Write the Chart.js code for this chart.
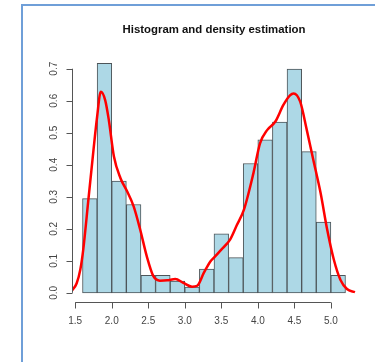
<!DOCTYPE html>
<html>
<head>
<meta charset="utf-8">
<script src="https://cdn.jsdelivr.net/npm/chart.js@4"></script>
<style>
  html, body { margin: 0; padding: 0; background: #fff; }
  #wrap { position: relative; width: 375px; height: 362px; overflow: hidden; }
  #frame { position: absolute; left: 21px; top: 4px; width: 400px; height: 400px;
           border-left: 2px solid #6f9fd8; border-top: 2px solid #6f9fd8; }
  canvas { position: absolute; left: 0; top: 0; }
</style>
</head>
<body>
<div id="wrap">
  <div id="frame"></div>
  <canvas id="chart" width="375" height="362"></canvas>
</div>
<script>
// histogram bins (width 0.2) and their densities
const binMids = [1.7, 1.9, 2.1, 2.3, 2.5, 2.7, 2.9, 3.1, 3.3, 3.5, 3.7, 3.9, 4.1, 4.3, 4.5, 4.7, 4.9, 5.1];
const binDensity = [0.294, 0.717, 0.349, 0.276, 0.055, 0.055, 0.037, 0.018, 0.074, 0.184, 0.110, 0.404, 0.478, 0.533, 0.699, 0.441, 0.221, 0.055];

// kernel density curve
const densX = [1.46, 1.52, 1.57, 1.61, 1.68, 1.75, 1.80, 1.85, 1.91, 1.96, 2.03, 2.12, 2.21, 2.30, 2.39, 2.48, 2.57, 2.66, 2.76, 2.87, 2.98, 3.10, 3.17, 3.26, 3.35, 3.40, 3.50, 3.62, 3.71, 3.81, 3.94, 4.03, 4.13, 4.24, 4.35, 4.44, 4.49, 4.58, 4.67, 4.76, 4.86, 4.95, 5.04, 5.13, 5.22, 5.33];
const densY = [0.008, 0.030, 0.073, 0.135, 0.290, 0.446, 0.550, 0.628, 0.602, 0.540, 0.426, 0.358, 0.317, 0.270, 0.197, 0.114, 0.052, 0.038, 0.039, 0.043, 0.031, 0.019, 0.022, 0.062, 0.098, 0.110, 0.135, 0.166, 0.210, 0.260, 0.374, 0.467, 0.509, 0.535, 0.587, 0.617, 0.623, 0.597, 0.509, 0.415, 0.311, 0.197, 0.104, 0.041, 0.012, 0.002];

const xTicks = [1.5, 2.0, 2.5, 3.0, 3.5, 4.0, 4.5, 5.0];
const yTicks = [0.0, 0.1, 0.2, 0.3, 0.4, 0.5, 0.6, 0.7];
const chartTitle = "Histogram and density estimation";

// R style axes, tick labels and title
const rAxes = {
    id: 'rAxes',
    afterDraw(chart) {
        const ctx = chart.ctx;
        const xs = chart.scales.x;
        const ys = chart.scales.y;
        const area = chart.chartArea;
        ctx.save();
        ctx.strokeStyle = '#555';
        ctx.lineWidth = 1;
        ctx.fillStyle = '#444';
        ctx.font = '10px "Liberation Sans", Arial, sans-serif';

        // y axis
        const yx = Math.round(area.left) + 0.5;
        ctx.beginPath();
        ctx.moveTo(yx, ys.getPixelForValue(yTicks[0]));
        ctx.lineTo(yx, ys.getPixelForValue(yTicks[yTicks.length - 1]));
        yTicks.forEach(v => {
            const py = Math.round(ys.getPixelForValue(v)) + 0.5;
            ctx.moveTo(yx, py);
            ctx.lineTo(yx - 6, py);
        });
        ctx.stroke();
        ctx.textAlign = 'center';
        ctx.textBaseline = 'middle';
        yTicks.forEach(v => {
            ctx.save();
            ctx.translate(yx - 18, ys.getPixelForValue(v));
            ctx.rotate(-Math.PI / 2);
            ctx.fillText(v.toFixed(1), 0, 0);
            ctx.restore();
        });

        // x axis
        const xy = Math.round(area.bottom) + 0.5;
        ctx.beginPath();
        ctx.moveTo(xs.getPixelForValue(xTicks[0]), xy);
        ctx.lineTo(xs.getPixelForValue(xTicks[xTicks.length - 1]), xy);
        xTicks.forEach(v => {
            const px = Math.round(xs.getPixelForValue(v)) + 0.5;
            ctx.moveTo(px, xy);
            ctx.lineTo(px, xy + 6);
        });
        ctx.stroke();
        xTicks.forEach(v => {
            ctx.fillText(v.toFixed(1), xs.getPixelForValue(v), xy + 19);
        });

        // title
        ctx.fillStyle = '#111';
        ctx.font = 'bold 11.4px "Liberation Sans", Arial, sans-serif';
        ctx.fillText(chartTitle, (area.left + area.right) / 2, 30);
        ctx.restore();
    }
};

new Chart(document.getElementById('chart'), {
    type: 'bar',
    data: {
        datasets: [
            {
                type: 'line',
                data: densX.map((x, i) => ({ x: x, y: densY[i] })),
                borderColor: '#ff0000',
                borderWidth: 2.5,
                pointRadius: 0,
                cubicInterpolationMode: 'monotone',
                fill: false,
                order: 0
            },
            {
                type: 'bar',
                data: binMids.map((m, i) => ({ x: m, y: binDensity[i] })),
                backgroundColor: '#add8e6',
                borderColor: '#4d5559',
                borderWidth: 1,
                borderSkipped: false,
                barPercentage: 1,
                categoryPercentage: 1,
                order: 1
            }
        ]
    },
    options: {
        responsive: false,
        animation: false,
        layout: { padding: { left: 72, right: 19, top: 54, bottom: 60 } },
        plugins: { legend: { display: false }, tooltip: { enabled: false } },
        scales: {
            x: { type: 'linear', min: 1.456, max: 5.344, offset: false, display: false },
            y: { min: -0.0287, max: 0.746, display: false }
        }
    },
    plugins: [rAxes]
});
</script>
</body>
</html>
